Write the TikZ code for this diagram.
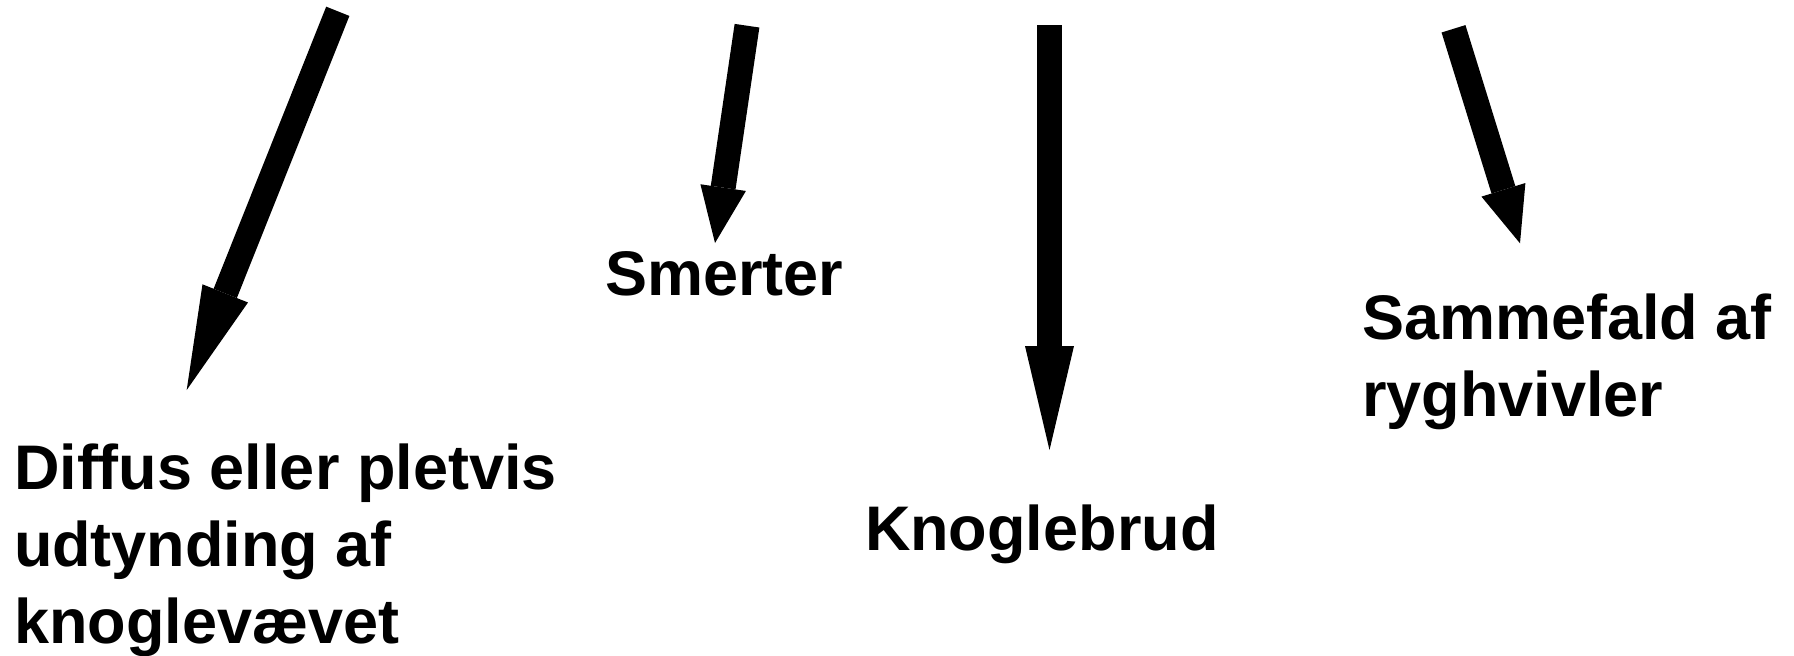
\documentclass[tikz,border=0pt]{standalone}
\usepackage{fontspec}
\setmainfont{Liberation Sans}[Ligatures=NoCommon]
\usetikzlibrary{arrows.meta}
\tikzset{
  label/.style={inner sep=0pt, outer sep=0pt, anchor=base west, align=left,
    font=\fontsize{63}{77}\selectfont\bfseries},
  longarrow/.style={line width=25pt, draw=black,
    -{Triangle[length=104pt,width=49pt,line width=0pt]}},
  shortarrow/.style={line width=25pt, draw=black,
    -{Triangle[length=56pt,width=46pt,line width=0pt]}}
}
\begin{document}
\begin{tikzpicture}[x=1pt,y=-1pt]
  \useasboundingbox (0,0) rectangle (1794,656);

  % labels (anchored at the baseline of their last line)
  \node[label] (thin)  at (14,643)   {Diffus eller pletvis\\udtynding af\\knoglevævet};
  \node[label] (pain)  at (605,295)  {Smerter};
  \node[label] (frac)  at (865,550)  {Knoglebrud};
  \node[label] (spine) at (1362,416) {Sammefald af\\ryghvivler};

  % arrow ends
  \coordinate (t1) at (337.8,11.3);   \coordinate (h1) at (186.7,390);
  \coordinate (t2) at (747,25.7);     \coordinate (h2) at (715,243);
  \coordinate (t3) at (1049.5,25);    \coordinate (h3) at (1049.5,450);
  \coordinate (t4) at (1453.5,28.8);  \coordinate (h4) at (1520,243.3);

  % arrows
  \draw[longarrow]  (t1) -- (h1);
  \draw[shortarrow] (t2) -- (h2);
  \draw[longarrow]  (t3) -- (h3);
  \draw[shortarrow] (t4) -- (h4);
\end{tikzpicture}
\end{document}
